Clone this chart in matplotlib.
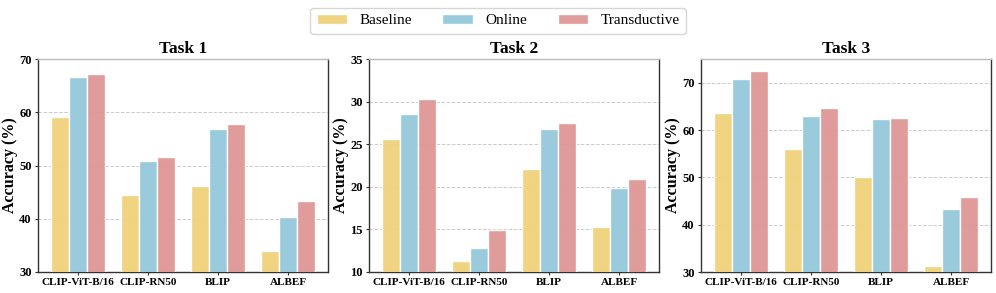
import numpy as np
import matplotlib
matplotlib.use("Agg")
import matplotlib.pyplot as plt

plt.rcParams['font.family'] = ['Liberation Serif', 'DejaVu Serif']
plt.rcParams['font.weight'] = 'bold'

models = ['CLIP-ViT-B/16', 'CLIP-RN50', 'BLIP', 'ALBEF']
methods = ['Baseline', 'Online', 'Transductive']
colors = ['#F0D27A', '#94C9DB', '#DE9795']

task1_baseline = [59.2, 44.4, 46.2, 34.0]
task1_online = [66.6, 50.9, 56.8, 40.4]
task1_trans = [67.2, 51.6, 57.7, 43.4]

task2_baseline = [25.6, 11.3, 22.1, 15.3]
task2_online = [28.6, 12.8, 26.8, 19.9]
task2_trans = [30.3, 14.9, 27.5, 20.9]

task3_baseline = [63.6, 56.0, 50.0, 31.3]
task3_online = [70.8, 62.9, 62.3, 43.4]
task3_trans = [72.5, 64.7, 62.5, 45.9]

tasks = ['Task 1', 'Task 2', 'Task 3']
ylims = [(30, 70), (10, 35), (30, 75)]
yticks = [[30, 40, 50, 60, 70], [10, 15, 20, 25, 30, 35], [30, 40, 50, 60, 70]]
data = [
    [task1_baseline, task1_online, task1_trans],
    [task2_baseline, task2_online, task2_trans],
    [task3_baseline, task3_online, task3_trans],
]

fig = plt.figure(figsize=(9.96, 2.93), dpi=100)
lefts = [38, 369, 701]
w = 290
bottom = 1 - 272 / 293
height = (272 - 59) / 293

x = np.arange(len(models))
bw = 0.26
handles = []
for i in range(3):
    ax = fig.add_axes([lefts[i] / 996, bottom, w / 996, height])
    for j in range(3):
        b = ax.bar(x + (j - 1) * bw, data[i][j], bw, color=colors[j],
                   edgecolor='white', linewidth=1.0, alpha=0.95,
                   label=methods[j], zorder=3)
        if i == 0:
            handles.append(b)
    ax.set_ylim(*ylims[i])
    ax.set_yticks(yticks[i])
    ax.set_xlim(-0.57, 3.57)
    ax.set_xticks(x)
    ax.set_xticklabels(models)
    ax.tick_params(axis='x', labelsize=8)
    ax.tick_params(axis='y', labelsize=9)
    ax.tick_params(axis='both', length=2.5, width=0.8, color='#333333', pad=2)
    ax.grid(axis='y', linestyle='--', color='#cccccc', linewidth=0.7, zorder=0)
    ax.set_axisbelow(True)
    for s in ax.spines.values():
        s.set_color('#333333')
        s.set_linewidth(1.0)
    ax.spines['top'].set_color('#bbbbbb')
    ax.set_title(tasks[i], fontsize=12.5, fontweight='bold', pad=4)
    ax.set_ylabel('Accuracy (%)', fontsize=11.5, fontweight='bold', labelpad=1)

fig.legend(handles=handles, labels=methods, loc='upper center',
           bbox_to_anchor=(0.5, 1.0), ncol=3, frameon=True,
           fancybox=True, edgecolor='#cccccc', columnspacing=2.0,
           handlelength=2.0, handletextpad=0.8, borderpad=0.4,
           prop={'weight': 'normal', 'size': 11})

fig.savefig('out.png', dpi=100)
